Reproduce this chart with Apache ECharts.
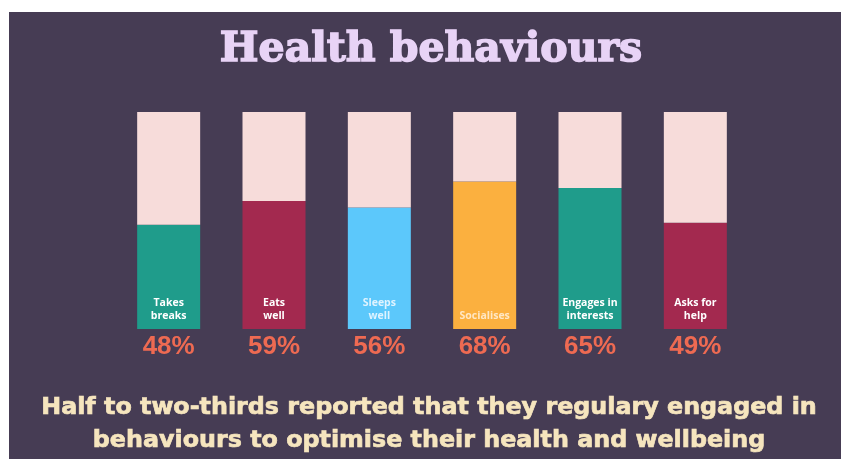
<!DOCTYPE html>
<html>
<head>
<meta charset="utf-8">
<script src="https://cdn.jsdelivr.net/npm/echarts@6/dist/echarts.min.js"></script>
<style>
  html, body { margin: 0; padding: 0; background: #ffffff; }
  #chart { width: 843px; height: 459px; }
</style>
</head>
<body>
<div id="chart"></div>
<script>
// Behaviours and the share reporting each one (percent)
const behaviours = ['Takes\nbreaks', 'Eats\nwell', 'Sleeps\nwell', 'Socialises', 'Engages in\ninterests', 'Asks for\nhelp'];
const percentages = [48, 59, 56, 68, 65, 49];
const fillColours = ['#1f9c8b', '#a3294f', '#5cc8fb', '#fbb03f', '#1f9c8b', '#a3294f'];
const innerTextColours = ['#ffffff', '#ffffff', '#dff3ff', '#ffe7c4', '#ffffff', '#ffffff'];
const headline = 'Health behaviours';
const summary = 'Half to two-thirds reported that they regulary engaged in\nbehaviours to optimise their health and wellbeing';

const remainder = percentages.map(v => 100 - v);

const chart = echarts.init(document.getElementById('chart'), null, { renderer: 'canvas' });

chart.setOption({
  backgroundColor: '#ffffff',
  animation: false,
  graphic: [{
    type: 'rect',
    z: -10,
    shape: { x: 9, y: 12, width: 832, height: 447 },
    style: { fill: '#463c54' }
  }, {
    type: 'text',
    x: 431,
    y: 50,
    style: {
      text: headline,
      align: 'center',
      verticalAlign: 'middle',
      font: 'bold 41px "DejaVu Serif"',
      fill: '#e8d3f6',
      stroke: '#e8d3f6',
      lineWidth: 1.5
    }
  }, {
    type: 'text',
    x: 429,
    y: 424,
    style: {
      text: summary,
      align: 'center',
      verticalAlign: 'middle',
      font: 'bold 23.8px "DejaVu Sans"',
      lineHeight: 33,
      fill: '#f6e5be',
      stroke: '#f6e5be',
      lineWidth: 0.7
    }
  }],
  grid: { left: 116, right: 95, top: 112, bottom: 130 },
  xAxis: {
    type: 'category',
    data: behaviours,
    axisLine: { show: false },
    axisTick: { show: false },
    axisLabel: {
      margin: 5,
      formatter: (val, idx) => percentages[idx] + '%',
      fontFamily: 'Liberation Sans',
      fontWeight: 'bold',
      fontSize: 26,
      color: '#ee6a52'
    }
  },
  yAxis: {
    type: 'value',
    min: 0,
    max: 100,
    show: false,
    splitLine: { show: false }
  },
  series: [{
    type: 'bar',
    stack: 'share',
    barWidth: 63,
    data: percentages.map((v, i) => ({
      value: v,
      itemStyle: { color: fillColours[i] },
      label: { color: innerTextColours[i] }
    })),
    label: {
      show: true,
      position: 'insideBottom',
      distance: 6,
      formatter: '{b}',
      fontFamily: 'Open Sans',
      fontWeight: 'bold',
      fontSize: 10.5,
      lineHeight: 13,
      align: 'center'
    }
  }, {
    type: 'bar',
    stack: 'share',
    barWidth: 63,
    data: remainder,
    itemStyle: { color: '#f7dcda' }
  }]
});
</script>
</body>
</html>
